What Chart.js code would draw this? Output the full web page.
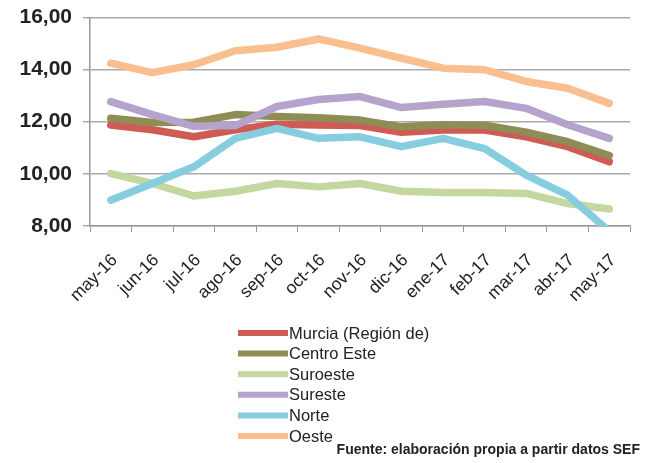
<!DOCTYPE html>
<html>
<head>
<meta charset="utf-8">
<script src="https://cdn.jsdelivr.net/npm/chart.js@4.4.1/dist/chart.umd.min.js"></script>
<style>
html,body{margin:0;padding:0;background:#fff;}
#wrap{width:645px;height:463px;position:relative;}
</style>
</head>
<body>
<div id="wrap"><canvas id="c" width="645" height="463"></canvas></div>
<script>
const categories = ["may-16","jun-16","jul-16","ago-16","sep-16","oct-16","nov-16","dic-16","ene-17","feb-17","mar-17","abr-17","may-17"];
const seriesNames = ["Murcia (Región de)","Centro Este","Suroeste","Sureste","Norte","Oeste"];
const murcia     = [11.87,11.69,11.42,11.69,11.90,11.87,11.85,11.59,11.68,11.68,11.42,11.04,10.46];
const centroEste = [12.13,11.97,11.98,12.27,12.20,12.15,12.06,11.80,11.88,11.86,11.60,11.23,10.70];
const suroeste   = [10.01,9.63,9.15,9.33,9.63,9.50,9.63,9.33,9.28,9.28,9.25,8.86,8.65];
const sureste    = [12.77,12.27,11.82,11.85,12.58,12.85,12.96,12.54,12.67,12.77,12.51,11.88,11.36];
const norte      = [8.99,9.63,10.27,11.36,11.74,11.36,11.42,11.04,11.36,10.97,9.95,9.18,7.80];
const oeste      = [14.24,13.88,14.18,14.72,14.85,15.17,14.82,14.43,14.05,13.99,13.54,13.28,12.70];
const yTicks = [8,10,12,14,16];
const sourceText = "Fuente: elaboración propia a partir datos SEF";

const colors = ["#cf5b55","#8e8d55","#c4d79e","#b5a3cb","#86cde0","#f9bf8f"];
const values = [murcia, centroEste, suroeste, sureste, norte, oeste];

const datasets = values.map((v, i) => ({
  label: seriesNames[i],
  data: v,
  borderColor: colors[i],
  backgroundColor: colors[i],
  borderWidth: 7.5,
  pointRadius: 0,
  tension: 0,
  borderCapStyle: 'round',
  borderJoinStyle: 'round',
  order: seriesNames.length - i,
  fill: false
}));

const legendPlugin = {
  id: 'vlegend',
  afterDraw(chart) {
    const ctx = chart.ctx;
    ctx.save();
    const x0 = 238, x1 = 288, yStart = 333, step = 20.6;
    chart.data.datasets.forEach((ds, i) => {
      const y = yStart + i * step;
      ctx.strokeStyle = ds.borderColor;
      ctx.lineWidth = 6;
      ctx.lineCap = 'butt';
      ctx.beginPath();
      ctx.moveTo(x0, y);
      ctx.lineTo(x1, y);
      ctx.stroke();
      ctx.fillStyle = '#222';
      ctx.font = '16.5px "Liberation Sans", sans-serif';
      ctx.textBaseline = 'middle';
      ctx.textAlign = 'left';
      ctx.fillText(ds.label, x1 + 1, y + 1);
    });
    ctx.font = 'bold 14px "Liberation Sans", sans-serif';
    ctx.textAlign = 'right';
    ctx.textBaseline = 'middle';
    ctx.fillStyle = '#222';
    ctx.fillText(sourceText, 640, 450);
    ctx.restore();
  }
};

new Chart(document.getElementById('c'), {
  type: 'line',
  data: { labels: categories, datasets: datasets },
  options: {
    responsive: false,
    animation: false,
    devicePixelRatio: 1,
    layout: { padding: { left: 0, right: 15, top: 15, bottom: 156 } },
    plugins: { legend: { display: false }, tooltip: { enabled: false } },
    scales: {
      x: {
        type: 'category',
        offset: true,
        grid: { display: true, drawOnChartArea: false, drawTicks: true, tickLength: 6, offset: true, color: '#999' },
        border: { display: true, color: '#999', width: 1.5 },
        ticks: {
          minRotation: 45, maxRotation: 45, autoSkip: false,
          color: '#222', padding: 18, labelOffset: 4,
          font: { family: '"Liberation Sans", sans-serif', size: 17.5 }
        },
        afterFit(scale) { scale.height = 81; }
      },
      y: {
        min: 8, max: 16,
        afterBuildTicks(scale) { scale.ticks = yTicks.map(v => ({ value: v })); },
        grid: { color: '#aaa', lineWidth: 1.5, drawTicks: true, tickLength: 7 },
        border: { display: true, color: '#999', width: 1.5 },
        ticks: {
          color: '#222', padding: 11,
          font: { family: '"Liberation Sans", sans-serif', size: 21, weight: 'bold', lineHeight: 0.6 },
          callback: v => v.toFixed(2).replace('.', ',')
        },
        afterFit(scale) { scale.width = 90; }
      }
    }
  },
  plugins: [legendPlugin]
});
</script>
</body>
</html>
